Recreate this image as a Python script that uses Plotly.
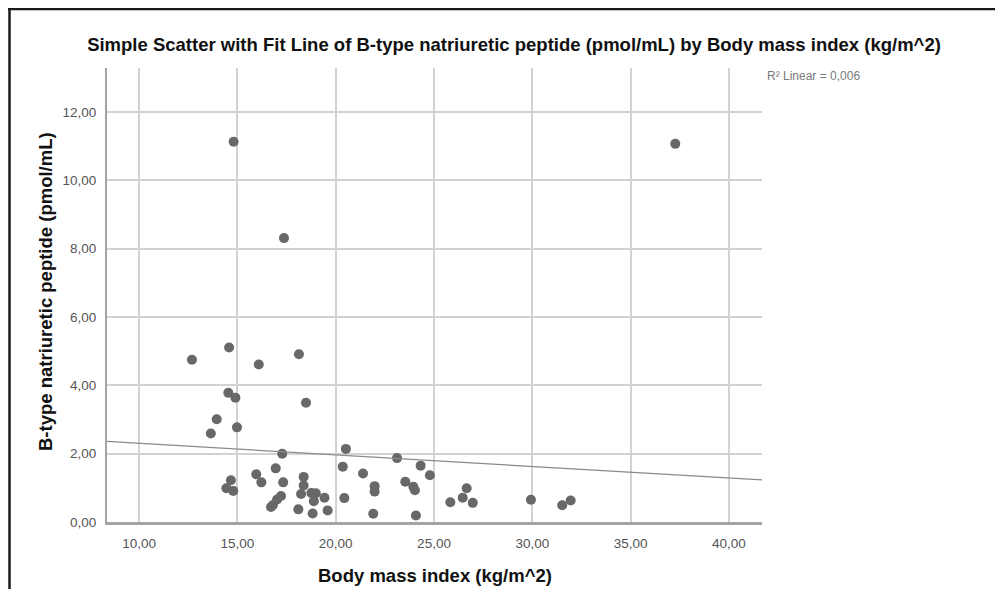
import numpy as np
import plotly.graph_objects as go

# Body mass index (kg/m^2)
bmi = [12.69, 14.58, 16.09, 18.13, 14.54, 14.90, 18.49, 13.95, 14.98, 13.65,
       17.28, 20.52, 20.36, 16.95, 15.96, 18.37, 14.67, 16.22, 17.33, 18.37,
       14.44, 14.79, 18.24, 18.76, 18.99, 19.43, 20.44, 18.89, 17.22, 17.02,
       16.81, 16.71, 18.10, 19.59, 18.83, 23.12, 24.32, 24.79, 21.39, 23.54,
       21.98, 21.98, 23.95, 24.03, 21.91, 24.08, 25.83, 26.46, 26.66, 26.97,
       29.93, 31.52, 31.95, 14.81, 17.37, 37.27]
# B-type natriuretic peptide (pmol/mL)
bnp = [4.75, 5.11, 4.61, 4.91, 3.78, 3.64, 3.49, 3.01, 2.77, 2.59,
       2.00, 2.14, 1.62, 1.57, 1.40, 1.32, 1.22, 1.16, 1.16, 1.07,
       0.99, 0.91, 0.82, 0.85, 0.84, 0.71, 0.70, 0.61, 0.76, 0.66,
       0.50, 0.44, 0.37, 0.34, 0.25, 1.87, 1.65, 1.37, 1.42, 1.18,
       1.05, 0.89, 1.03, 0.93, 0.24, 0.19, 0.58, 0.71, 0.99, 0.56,
       0.65, 0.49, 0.63, 11.13, 8.31, 11.07]

x_ticks = [10, 15, 20, 25, 30, 35, 40]
x_tick_labels = ["10,00", "15,00", "20,00", "25,00", "30,00", "35,00", "40,00"]
y_ticks = [0, 2, 4, 6, 8, 10, 12]
y_tick_labels = ["0,00", "2,00", "4,00", "6,00", "8,00", "10,00", "12,00"]
x_range = [8.37, 41.68]
y_range = [0, 13.29]
r2_label = "R² Linear = 0,006"

# least-squares fit line
slope, intercept = np.polyfit(bmi, bnp, 1)
fit_x = np.array(x_range)
fit_y = intercept + slope * fit_x

FONT = "Liberation Sans, Arial, sans-serif"

# page is offset by the 8px default body margin; keep the figure inside the viewport
OFF = 8
W, H = 1003 - 2 * OFF, 597 - 2 * OFF
PL, PR, PT, PB = 107, 762, 68, 522  # plot area in page pixels
PW, PH = PR - PL, PB - PT


def px(x):
    return (x - PL) / PW


def py(y):
    return (PB - y) / PH


fig = go.Figure()
fig.add_trace(go.Scatter(
    x=bmi, y=bnp, mode="markers",
    marker=dict(size=10, color="#686868", line=dict(width=0)),
    showlegend=False, hoverinfo="x+y"))
fig.add_trace(go.Scatter(
    x=fit_x, y=fit_y, mode="lines",
    line=dict(color="#8a8a8a", width=1.2),
    showlegend=False, hoverinfo="skip"))

frame_lines = [
    # left edge of the chart frame
    dict(type="line", xref="paper", yref="paper",
         x0=px(9.5), x1=px(9.5), y0=py(9), y1=py(620),
         line=dict(color="#1a1a1a", width=2.5), layer="below"),
    # top edge of the chart frame
    dict(type="line", xref="paper", yref="paper",
         x0=px(8), x1=px(1030), y0=py(9), y1=py(9),
         line=dict(color="#1a1a1a", width=2.5), layer="below"),
]

fig.update_layout(
    width=W, height=H,
    margin=dict(l=PL - OFF, r=OFF + W - PR, t=PT - OFF, b=OFF + H - PB),
    paper_bgcolor="white", plot_bgcolor="white",
    font=dict(family=FONT, color="#555555"),
    title=dict(
        text="<b>Simple Scatter with Fit Line of B-type natriuretic peptide (pmol/mL) by Body mass index (kg/m^2)</b>",
        font=dict(family=FONT, size=18.5, color="#111111"),
        xref="container", yref="container", x=(514 - OFF) / W, y=1 - (45 - OFF) / H,
        xanchor="center", yanchor="middle"),
    xaxis=dict(
        range=x_range, tickvals=x_ticks, ticktext=x_tick_labels,
        showgrid=True, gridcolor="#d2d2d2", gridwidth=1.6,
        zeroline=False, showline=True, linecolor="#a4a4a4", linewidth=2.5,
        ticks="", ticklabelstandoff=7,
        tickfont=dict(size=13.5, color="#555555", family=FONT)),
    yaxis=dict(
        range=y_range, tickvals=y_ticks, ticktext=y_tick_labels,
        showgrid=True, gridcolor="#d2d2d2", gridwidth=1.6,
        zeroline=False, showline=True, linecolor="#a4a4a4", linewidth=2,
        ticks="", ticklabelstandoff=6,
        tickfont=dict(size=13.5, color="#555555", family=FONT)),
    shapes=frame_lines,
    annotations=[
        dict(text="<b>Body mass index (kg/m^2)</b>", xref="paper", yref="paper",
             x=px(435), y=py(575), showarrow=False,
             xanchor="center", yanchor="middle",
             font=dict(family=FONT, size=18.5, color="#111111")),
        dict(text="<b>B-type natriuretic peptide (pmol/mL)</b>", xref="paper", yref="paper",
             x=px(45), y=py(292), showarrow=False, textangle=-90,
             xanchor="center", yanchor="middle",
             font=dict(family=FONT, size=18.5, color="#111111")),
        dict(text=r2_label, xref="paper", yref="paper",
             x=px(765), y=py(76), showarrow=False,
             xanchor="left", yanchor="middle",
             font=dict(family=FONT, size=12, color="#7a7a7a")),
    ],
)

fig.write_html("out.html")
